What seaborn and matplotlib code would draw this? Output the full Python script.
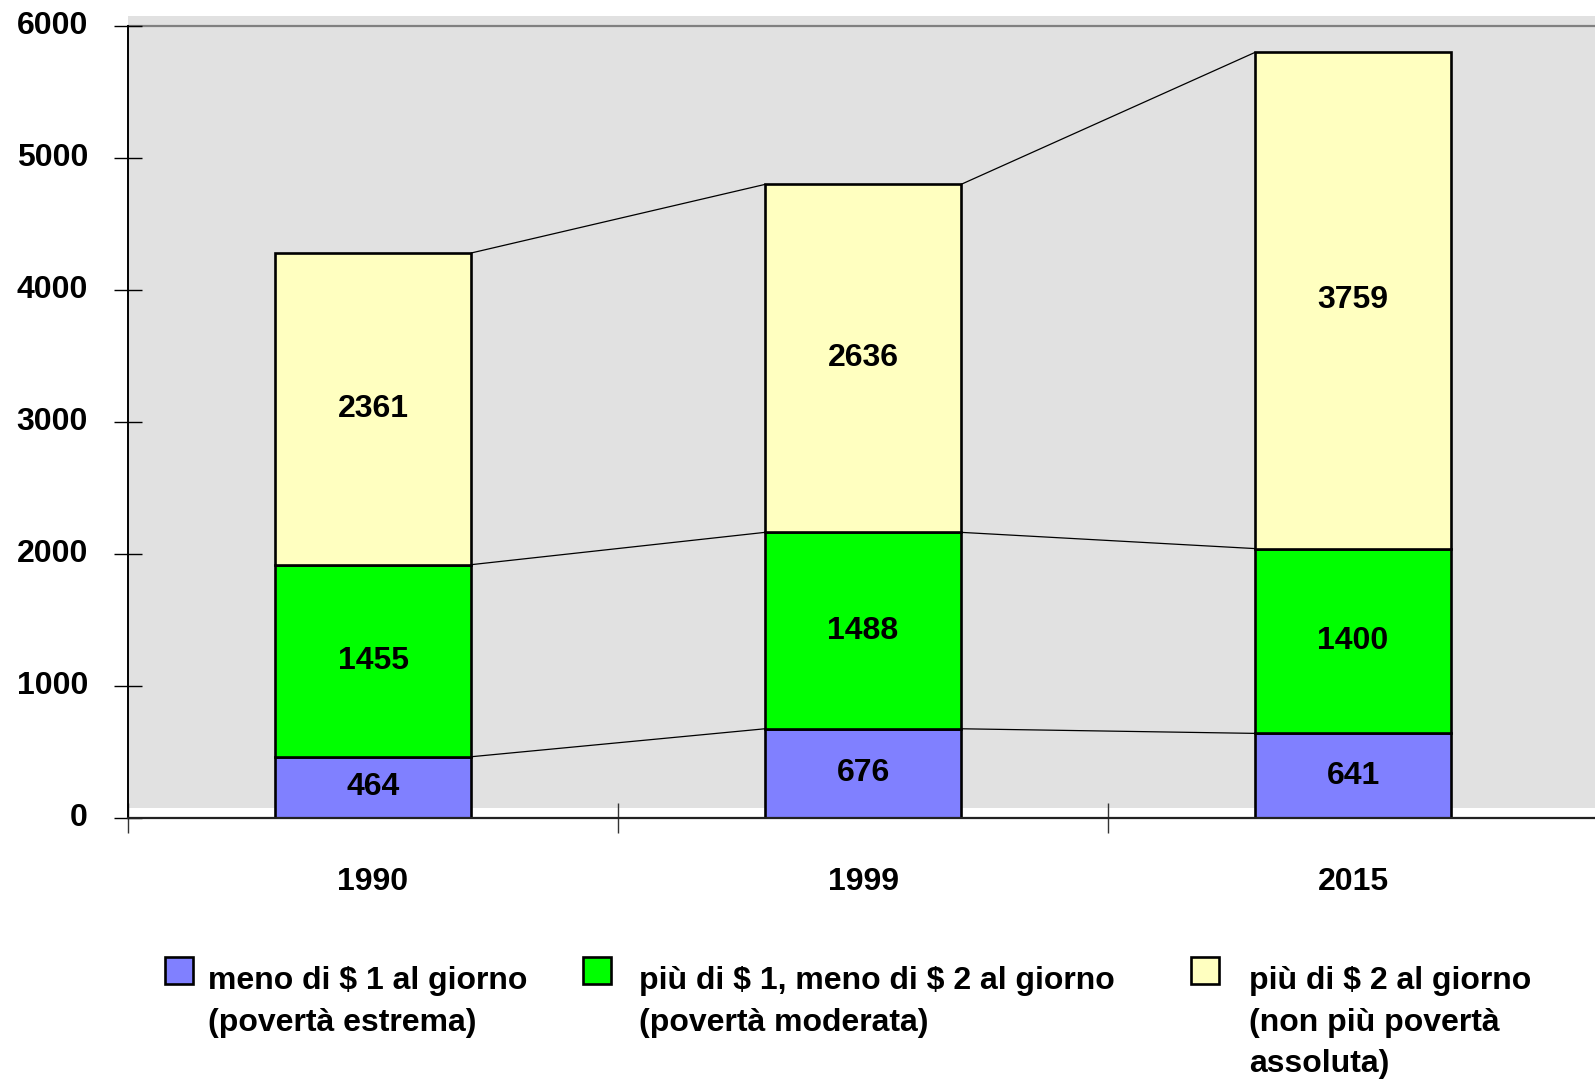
import matplotlib
matplotlib.use('Agg')
import matplotlib.pyplot as plt
from matplotlib.patches import Rectangle
from matplotlib.transforms import offset_copy, ScaledTranslation
import numpy as np
import seaborn as sns

# data (milioni di persone)
years = ['1990', '1999', '2015']
meno_1 = [464, 676, 641]
tra_1_2 = [1455, 1488, 1400]
piu_2 = [2361, 2636, 3759]

series_labels = ['meno di \\$ 1 al giorno\n(povertà estrema)',
                 'più di \\$ 1, meno di \\$ 2 al giorno\n(povertà moderata)',
                 'più di \\$ 2 al giorno\n(non più povertà\nassoluta)']
series_colors = ['#8080FF', '#00FF00', '#FFFFC0']
y_ticks = [0, 1000, 2000, 3000, 4000, 5000, 6000]

sns.set_style('white')
plt.rcParams['font.family'] = ['Liberation Sans', 'DejaVu Sans']
plt.rcParams['font.weight'] = 'bold'
plt.rcParams['text.color'] = 'black'
plt.rcParams['xtick.labelcolor'] = 'black'
plt.rcParams['ytick.labelcolor'] = 'black'
FS = 23

W, H = 1595, 1081
fig = plt.figure(figsize=(W / 100, H / 100), dpi=100)
ax = fig.add_axes([128 / W, (H - 818) / H, 1470 / W, 792 / H])
ax.set_facecolor('none')

# shifted grey back wall
ax.add_patch(Rectangle((0, 0), 1, 1, transform=offset_copy(ax.transAxes, fig=fig, x=0, y=10, units='dots'),
                       facecolor='#E1E1E1', edgecolor='none', zorder=0, clip_on=False))
ax.axhline(6000, color='#808080', lw=1.6, zorder=0.5, clip_on=False)

bottom = np.zeros(len(years))
containers = []
tops = []
for vals, col in zip([meno_1, tra_1_2, piu_2], series_colors):
    sns.barplot(x=years, y=vals, bottom=bottom.copy(), color=col, saturation=1, width=0.4,
                edgecolor='black', linewidth=1.9, errorbar=None, ax=ax, zorder=2)
    cont = ax.containers[-1]
    containers.append(cont)
    ax.bar_label(cont, labels=[str(v) for v in vals], label_type='center', fontsize=FS,
                 fontweight='bold', color='black', padding=0)
    bottom = bottom + np.array(vals)
    tops.append(bottom.copy())

# connector lines between bar tops
for lev in tops:
    for i in range(len(years) - 1):
        ax.plot([i + 0.2, i + 0.8], [lev[i], lev[i + 1]], color='black', lw=0.9, zorder=1.5)

ax.set_xlim(-0.5, 2.5)
ax.set_ylim(0, 6000)
ax.set_yticks(y_ticks)
ax.set_yticklabels([str(t) for t in y_ticks], fontsize=FS, fontweight='bold')
ax.tick_params(axis='y', direction='inout', length=19.5, width=1, color='black', pad=19, left=True)
ax.set_xticks(range(len(years)))
ax.set_xticklabels(years, fontsize=FS, fontweight='bold')
ax.tick_params(axis='x', which='major', length=0, pad=35.5)
ax.set_xticks([-0.5, 0.5, 1.5], minor=True)
ax.tick_params(axis='x', which='minor', direction='inout', length=21, width=1, color='#333333', bottom=True)
ax.set_xlabel('')
ax.set_ylabel('')

# y labels sit a touch above their ticks in the original
nudge = ScaledTranslation(0, 3 / 100, fig.dpi_scale_trans)
for tick in ax.yaxis.get_major_ticks():
    tick.label1.set_transform(tick.label1.get_transform() + nudge)

for s in ['top', 'right']:
    ax.spines[s].set_visible(False)
ax.spines['left'].set_color('black')
ax.spines['left'].set_linewidth(1.4)
ax.spines['bottom'].set_color('#222222')
ax.spines['bottom'].set_linewidth(1.6)
ax.spines['bottom'].set_zorder(3)

# legend, one entry per series so each can sit where the original has it
anchors = [(165, 957), (583, 957), (1191, 957)]
text_gaps = [15, 28, 30]  # px between swatch and text
for cont, lab, (lx, ly), gap in zip(containers, series_labels, anchors, text_gaps):
    leg = fig.legend(handles=[cont.patches[0]], labels=[lab], loc='upper left',
                     bbox_to_anchor=(lx / W, 1 - ly / H), frameon=False, borderpad=0, borderaxespad=0,
                     handlelength=0.87, handleheight=0.9, handletextpad=gap / (FS * 100 / 72),
                     prop={'family': 'Liberation Sans', 'weight': 'bold', 'size': FS})
    for t in leg.get_texts():
        t.set_linespacing(1.5)
        t.set_color('black')
        t.set_y(-9)  # text sits a little lower than the swatch top
    try:
        for colbox in leg._legend_handle_box.get_children():
            for item in colbox.get_children():
                item.align = 'top'
    except AttributeError:
        pass

fig.savefig('out.png', dpi=100)
